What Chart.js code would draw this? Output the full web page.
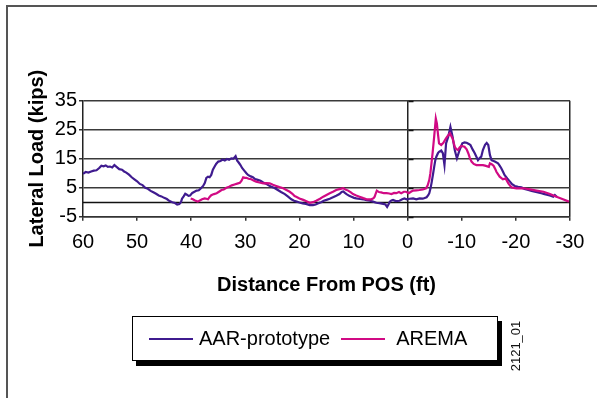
<!DOCTYPE html>
<html>
<head>
<meta charset="utf-8">
<script src="https://cdn.jsdelivr.net/npm/chart.js@4.4.1/dist/chart.umd.min.js"></script>
<style>
  html, body { margin: 0; padding: 0; background: #fff; }
  body { width: 597px; height: 398px; position: relative; overflow: hidden; font-family: "Liberation Sans", Arial, sans-serif; }
  #frame { position: absolute; left: 6px; top: 5px; width: 700px; height: 500px; border-top: 2px solid #555; border-left: 2px solid #555; }
  #wrap { position: absolute; left: 0; top: 0; width: 597px; height: 398px; }
  #legend { position: absolute; left: 132px; top: 316px; width: 366px; height: 45px; border: 1.5px solid #000; background: #fff;
            box-shadow: 4px 5px 0 #000; display: flex; align-items: center; padding-left: 16px; box-sizing: border-box; }
  #legend .item { display: flex; align-items: center; }
  #legend .swatch { width: 44px; height: 2px; }
  #legend .label { font-size: 20px; color: #000; white-space: nowrap; }
  #code { position: absolute; left: 515px; top: 346px; font-size: 13px; color: #111; transform: translate(-50%, -50%) rotate(-90deg); white-space: nowrap; }
</style>
</head>
<body>
<div id="frame"></div>
<div id="wrap"><canvas id="chart" width="597" height="398"></canvas></div>
<div id="legend"></div>
<div id="code">2121_01</div>
<script>
// tick labels
const xTicks = [60, 50, 40, 30, 20, 10, 0, -10, -20, -30];
const yTicks = [-5, 5, 15, 25, 35];

// AAR-prototype: distance from POS (ft) and lateral load (kips)
const aarX = [60.0, 59.5, 59.0, 58.5, 58.0, 57.5, 57.0, 56.6, 56.2, 55.8, 55.4, 55.0, 54.6, 54.2, 53.8, 53.3, 52.8, 52.4, 52.0, 51.5,
  51.0, 50.5, 50.0, 49.5, 49.0, 48.5, 48.0, 47.5, 47.0, 46.5, 46.0, 45.5, 45.0, 44.5, 44.0, 43.5, 43.0, 42.6, 42.2, 41.9,
  41.7, 41.4, 41.1, 40.8, 40.5, 40.2, 39.8, 39.4, 39.0, 38.6, 38.2, 37.8, 37.5, 37.2, 36.9, 36.6, 36.3, 36.0, 35.7, 35.4,
  35.0, 34.6, 34.2, 33.8, 33.4, 33.0, 32.6, 32.2, 31.8, 31.5, 31.2, 30.9, 30.6, 30.2, 29.8, 29.5, 29.0, 28.6, 28.2, 27.7,
  27.2, 26.7, 26.2, 25.7, 25.2, 24.6, 24.0, 23.4, 22.7, 22.1, 21.5, 21.0, 20.5, 20.0, 19.4, 18.8, 18.1, 17.5, 17.0, 16.5,
  16.0, 15.5, 15.0, 14.4, 13.8, 13.2, 12.6, 12.2, 11.9, 11.6, 11.3, 10.8, 10.4, 9.9, 9.5, 8.8, 8.2, 7.6, 7.0, 6.4,
  5.8, 5.2, 4.5, 4.1, 3.8, 3.5, 3.3, 3.0, 2.7, 2.2, 1.5, 1.0, 0.6, 0.2, -0.4, -1.0, -1.6, -2.2, -2.8, -3.5,
  -3.8, -4.0, -4.2, -4.4, -4.7, -4.9, -5.1, -5.3, -5.6, -5.8, -6.2, -6.5, -6.8, -7.1, -7.5, -7.9, -8.3, -8.7, -9.1, -9.6,
  -10.1, -10.5, -10.9, -11.3, -11.6, -12.0, -12.4, -13.0, -13.3, -13.6, -13.9, -14.3, -14.6, -14.9, -15.2, -15.5, -16.1, -16.7, -17.0, -17.3,
  -17.6, -17.9, -18.4, -18.9, -19.3, -19.8, -20.4, -21.0, -21.6, -22.3, -22.9, -23.5, -24.1, -24.7, -25.3, -25.9, -26.4, -26.9, -27.2, -27.6];
const aarY = [9.8, 10.4, 10.2, 10.6, 10.9, 11.0, 11.8, 12.6, 12.4, 12.7, 12.2, 12.3, 12.0, 12.8, 12.2, 11.4, 11.2, 10.6, 10.2, 9.5,
  8.6, 7.9, 7.2, 6.3, 5.9, 5.0, 4.6, 3.9, 3.4, 2.9, 2.3, 2.0, 1.5, 1.1, 0.4, 0.0, -0.3, -0.8, -0.6, 0.0,
  1.2, 2.0, 2.9, 2.6, 2.2, 2.3, 3.2, 3.6, 4.0, 4.1, 4.8, 5.6, 6.6, 8.4, 8.8, 8.6, 9.4, 11.2, 12.2, 13.2,
  14.0, 14.2, 14.7, 14.4, 14.9, 14.6, 15.1, 15.0, 15.9, 14.3, 13.6, 12.8, 11.8, 10.9, 10.0, 9.4, 8.9, 8.6, 8.0, 7.7,
  7.4, 6.8, 6.4, 5.8, 5.3, 4.9, 4.2, 3.5, 2.8, 1.9, 1.0, 0.5, 0.2, -0.1, -0.4, -0.6, -1.0, -1.0, -0.8, -0.4,
  0.0, 0.5, 0.8, 1.2, 1.7, 2.2, 2.8, 3.5, 3.7, 3.2, 2.8, 2.2, 1.9, 1.5, 1.3, 1.1, 1.0, 0.7, 0.5, 0.2,
  -0.2, -0.3, -0.6, -0.8, -1.6, -0.6, 0.2, 0.6, 0.8, 0.4, 0.5, 1.0, 1.3, 1.0, 1.2, 1.3, 1.0, 1.3, 1.2, 1.7,
  2.4, 3.1, 4.6, 6.5, 9.8, 12.2, 14.4, 15.7, 16.9, 17.4, 17.8, 16.9, 12.8, 20.3, 22.6, 26.0, 22.6, 18.0, 15.1, 18.0,
  20.3, 20.6, 20.5, 20.1, 19.7, 18.2, 16.9, 14.5, 15.2, 15.7, 18.0, 19.8, 20.4, 19.7, 16.3, 14.5, 14.0, 13.4, 12.6, 11.7,
  10.6, 9.4, 8.2, 7.1, 6.2, 5.6, 5.3, 5.1, 4.6, 4.2, 3.9, 3.6, 3.4, 3.1, 2.8, 2.5, 2.2, 1.9, 2.5, 1.8];

// AREMA
const aremaX = [40.1, 39.7, 39.3, 38.8, 38.4, 38.0, 37.5, 37.2, 36.9, 36.6, 36.3, 35.8, 35.3, 34.8, 34.4, 34.0, 33.5, 33.0, 32.5, 32.0,
  31.5, 31.0, 30.7, 30.4, 30.1, 29.8, 29.4, 28.9, 28.4, 28.0, 27.4, 26.7, 26.1, 25.5, 24.9, 24.3, 23.7, 23.0, 22.4, 21.8,
  21.3, 20.9, 20.6, 20.0, 19.3, 18.7, 18.1, 17.5, 16.9, 16.2, 15.6, 15.0, 14.4, 13.8, 13.2, 12.6, 11.9, 11.5, 11.0, 10.5,
  10.1, 9.5, 8.9, 8.2, 7.6, 6.7, 6.3, 6.1, 5.9, 5.7, 5.3, 4.9, 4.4, 3.9, 3.4, 3.0, 2.5, 2.1, 1.6, 1.2,
  0.7, 0.3, -0.2, -0.6, -1.0, -1.6, -2.2, -2.8, -3.4, -3.7, -4.0, -4.2, -4.4, -4.6, -4.9, -5.2, -5.4, -5.6, -5.8, -6.2,
  -6.6, -7.0, -7.3, -7.8, -8.3, -8.7, -9.0, -9.3, -9.6, -9.9, -10.5, -10.9, -11.2, -11.5, -11.8, -12.2, -12.7, -13.3, -13.9, -14.3,
  -15.0, -15.2, -15.6, -15.9, -16.2, -16.4, -17.0, -17.6, -18.1, -18.6, -19.2, -20.1, -21.4, -22.6, -23.8, -25.1, -26.3, -27.5, -28.7, -29.8];
const aremaY = [1.3, 1.0, 0.6, 0.2, 0.6, 1.0, 1.3, 1.2, 1.0, 1.8, 2.4, 2.8, 3.1, 3.7, 4.2, 4.4, 5.0, 5.3, 5.8, 6.1,
  6.4, 6.7, 7.4, 8.6, 8.4, 8.4, 8.1, 7.9, 7.4, 7.1, 6.8, 6.5, 6.6, 6.5, 6.0, 5.6, 5.2, 4.8, 4.2, 3.6,
  2.9, 2.1, 1.9, 1.3, 0.8, 0.3, -0.2, 0.0, 0.5, 1.2, 1.9, 2.5, 3.1, 3.6, 4.2, 4.5, 4.8, 4.4, 4.0, 3.4,
  2.8, 2.3, 1.9, 1.4, 1.0, 1.0, 1.4, 1.9, 3.0, 4.0, 3.5, 3.4, 3.1, 3.1, 3.0, 2.8, 3.2, 3.1, 3.5, 3.1,
  3.6, 3.6, 3.1, 3.6, 4.0, 4.1, 4.2, 4.4, 4.8, 5.8, 7.7, 10.0, 13.4, 16.8, 22.6, 28.9, 27.2, 23.5, 20.3, 19.7,
  20.5, 21.8, 22.6, 23.8, 22.0, 19.1, 18.3, 18.0, 18.9, 19.4, 19.1, 18.2, 16.9, 15.2, 14.0, 13.2, 12.8, 12.8, 12.8, 12.6,
  12.2, 13.4, 13.0, 12.5, 11.4, 10.5, 8.8, 7.9, 8.2, 6.5, 5.1, 4.8, 4.8, 4.4, 4.0, 3.6, 2.8, 1.9, 1.0, 0.2];

const series = [
  { name: 'AAR-prototype', xs: aarX, ys: aarY, color: '#3f1b8f' },
  { name: 'AREMA', xs: aremaX, ys: aremaY, color: '#d10a84' }
];

const zeroAxes = {
  id: 'zeroAxes',
  beforeDatasetsDraw(chart) {
    const { ctx, chartArea, scales: { x, y } } = chart;
    const y0 = Math.round(y.getPixelForValue(0)) + 0.5;
    const x0 = Math.round(x.getPixelForValue(0)) + 0.5;
    ctx.save();
    ctx.strokeStyle = '#111';
    ctx.lineWidth = 1.5;
    ctx.beginPath();
    ctx.moveTo(chartArea.left, y0);
    ctx.lineTo(chartArea.right, y0);
    yTicks.forEach(v => {
      const py = Math.round(y.getPixelForValue(v)) + 0.5;
      ctx.moveTo(x0, py);
      ctx.lineTo(x0 + 5, py);
    });
    ctx.stroke();
    ctx.restore();
  }
};

Chart.defaults.font.family = '"Liberation Sans", Arial, sans-serif';
Chart.defaults.color = '#000';

new Chart(document.getElementById('chart'), {
  type: 'line',
  data: {
    datasets: series.map((s, i) => ({
      label: s.name,
      data: s.xs.map((v, j) => ({ x: v, y: s.ys[j] })),
      borderColor: s.color,
      borderWidth: 2.2,
      pointRadius: 0,
      tension: 0,
      order: series.length - 1 - i
    }))
  },
  options: {
    responsive: false,
    animation: false,
    layout: { padding: { left: 0, top: 100.7, right: 27, bottom: 101.3 } },
    plugins: { legend: { display: false }, tooltip: { enabled: false } },
    scales: {
      x: {
        type: 'linear',
        reverse: true,
        min: -30,
        max: 60,
        afterBuildTicks: ax => { ax.ticks = xTicks.map(v => ({ value: v })); },
        afterFit: ax => { ax.height = 80; },
        ticks: { font: { size: 20 }, padding: 10, maxRotation: 0, autoSkip: false },
        grid: {
          drawTicks: true,
          tickLength: 4,
          tickColor: '#333',
          lineWidth: 1.5,
          color: c => (c.tick && (c.tick.value === 0 || c.tick.value === -30)) ? '#222' : 'rgba(0,0,0,0)'
        },
        border: { display: true, color: '#333', width: 1.5 },
        title: { display: true, text: 'Distance From POS (ft)', font: { size: 20, weight: 'bold' }, padding: { top: 0, bottom: -1 } }
      },
      y: {
        min: -5,
        max: 35,
        afterBuildTicks: ax => { ax.ticks = yTicks.map(v => ({ value: v })); },
        afterFit: ax => { ax.width = 83; },
        ticks: { font: { size: 20 }, padding: 2 },
        grid: { color: '#3a3a3a', lineWidth: 1.5, tickLength: 4, tickColor: '#333' },
        border: { display: true, color: '#222', width: 1.5 },
        title: { display: true, text: 'Lateral Load (kips)', font: { size: 20, weight: 'bold' }, padding: { top: 25, bottom: 0 } }
      }
    }
  },
  plugins: [zeroAxes]
});

const legend = document.getElementById('legend');
series.forEach((s, i) => {
  const item = document.createElement('div');
  item.className = 'item';
  item.style.marginLeft = i === 0 ? '0px' : '11px';
  item.innerHTML = '<span class="swatch" style="background:' + s.color + '"></span>' +
    '<span class="label" style="margin-left:' + (i === 0 ? 6 : 11) + 'px">' + s.name + '</span>';
  legend.appendChild(item);
});
</script>
</body>
</html>
